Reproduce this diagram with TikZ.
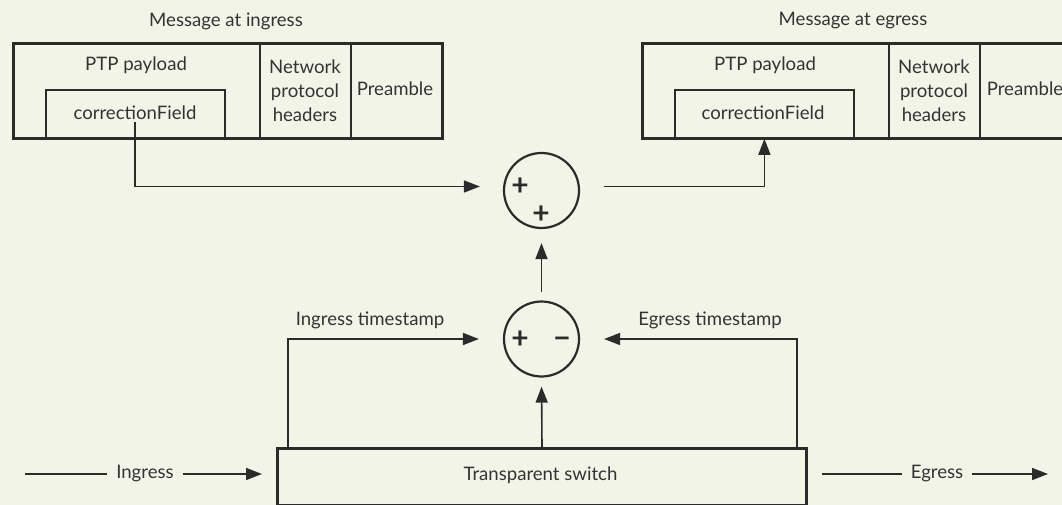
\documentclass[tikz,border=0pt]{standalone}
\usepackage{fontspec}
\setmainfont{Lato}
\usetikzlibrary{arrows.meta}
\definecolor{paper}{HTML}{F3F4E8}
\definecolor{ink}{HTML}{2B2B2B}
\definecolor{txtc}{HTML}{333333}
\newcommand{\lblfont}{\fontsize{18.6}{24}\selectfont}
\newcommand{\signfont}{\fontsize{30}{30}\selectfont\bfseries}
\tikzset{
  frame/.style={draw=ink, line width=3pt, inner sep=0pt, anchor=north west},
  field/.style={draw=ink, line width=1.8pt, inner sep=0pt, anchor=north west},
  txt/.style={text=txtc, font=\lblfont, inner sep=0pt, align=center},
  sign/.style={text=ink, font=\signfont, inner sep=0pt},
  sumnode/.style={circle, draw=ink, line width=2.2pt, minimum size=75pt, inner sep=0pt},
  conn/.style={draw=ink, line width=1.6pt},
  arr/.style={conn, -{Triangle[length=16pt,width=12pt]}},
  flowlbl/.style={txt, inner xsep=9pt},
}
\begin{document}
\begin{tikzpicture}[x=1pt, y=-1pt]
  \fill[paper] (0,0) rectangle (1062,505);
  \useasboundingbox (0,0) rectangle (1062,505);

  % ---- message at ingress ----
  \node[txt] (inTitle) at (226,21) {Message at ingress};
  \node[field, minimum width=247pt, minimum height=95pt] (inPayload) at (12,42) {};
  \node[field, minimum width=91pt, minimum height=95pt] (inHeaders) at (259,42) {};
  \node[field, minimum width=91pt, minimum height=95pt] (inPre) at (350,42) {};
  \node[field, minimum width=179pt, minimum height=48pt] (inCfBox) at (45,89) {};
  \node[frame, minimum width=429pt, minimum height=95pt] (inMsg) at (12,42) {};
  \node[txt] (inPayloadLbl) at (136,65) {PTP payload};
  \node[txt] (inCf) at (135,113) {correctionField};
  \node[txt] (inHeadersLbl) at (305,91) {Network\\protocol\\headers};
  \node[txt] (inPreLbl) at (395,89) {Preamble};

  % ---- message at egress ----
  \node[txt] (outTitle) at (853,21) {Message at egress};
  \node[field, minimum width=247pt, minimum height=95pt] (outPayload) at (641,42) {};
  \node[field, minimum width=91pt, minimum height=95pt] (outHeaders) at (888,42) {};
  \node[field, minimum width=91pt, minimum height=95pt] (outPre) at (979,42) {};
  \node[field, minimum width=179pt, minimum height=48pt] (outCfBox) at (674,89) {};
  \node[frame, minimum width=429pt, minimum height=95pt] (outMsg) at (641,42) {};
  \node[txt] (outPayloadLbl) at (765,65) {PTP payload};
  \node[txt] (outCf) at (763,113) {correctionField};
  \node[txt] (outHeadersLbl) at (934,91) {Network\\protocol\\headers};
  \node[txt] (outPreLbl) at (1025,89) {Preamble};

  % ---- adders ----
  \node[sumnode] (sumTop) at (541.5,190.5) {};
  \node[sign] (sumTopA) at (520,187) {+};
  \node[sign] (sumTopB) at (541,215) {+};
  \node[sumnode] (sumBot) at (541.5,339) {};
  \node[sign] (sumBotA) at (520,340) {+};
  \node[sign] (sumBotB) at (562,340) {\vphantom{+}−};

  % ---- switch ----
  \node[frame, minimum width=529pt, minimum height=57pt] (switch) at (276,447) {};
  \node[txt] (switchLbl) at (540.5,475) {Transparent switch};

  % ---- timestamps ----
  \node[txt] (tsIn) at (370,320) {Ingress timestamp};
  \node[txt] (tsOut) at (710,320) {Egress timestamp};
  \draw[arr] ([xshift=12pt]switch.north west) |- ([xshift=-24pt]sumBot.west);
  \draw[arr] ([xshift=-11pt]switch.north east) |- ([xshift=24pt]sumBot.east);
  \draw[arr, shorten >=9pt] (switch.north) -- (sumBot.south);
  \draw[arr, shorten <=8pt, shorten >=14pt] (sumBot.north) -- (sumTop.south);

  % ---- correction field path ----
  \draw[arr] ([yshift=-2pt]inCf.south) |- ([xshift=-23pt,yshift=4pt]sumTop.west);
  \draw[arr] ([xshift=24pt,yshift=4pt]sumTop.east) -| (outCfBox.south);

  % ---- ingress / egress flow ----
  \coordinate (inStart) at (25,474);
  \coordinate (outEnd) at (1048,474);
  \node[flowlbl] (ingressLbl) at (145,474) {Ingress};
  \node[flowlbl] (egressLbl) at (937,474) {Egress};
  \draw[conn] (inStart) -- (ingressLbl);
  \draw[arr] (ingressLbl) -- ([xshift=-14pt]switch.west |- ingressLbl);
  \draw[conn] ([xshift=14pt]switch.east |- egressLbl) -- (egressLbl);
  \draw[arr] (egressLbl) -- (outEnd);
\end{tikzpicture}
\end{document}
